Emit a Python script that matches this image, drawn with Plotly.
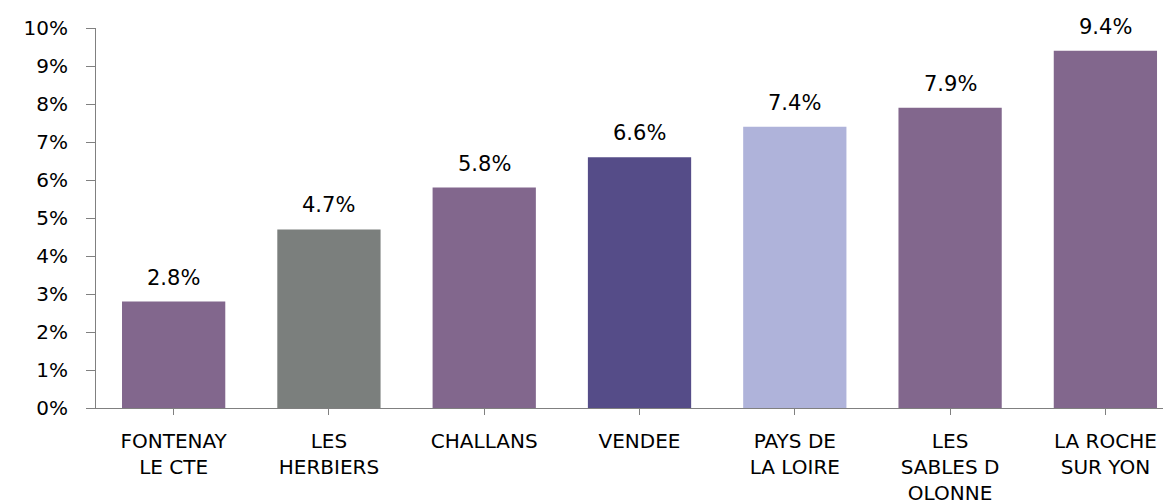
import plotly.graph_objects as go

categories = ["FONTENAY<br>LE CTE", "LES<br>HERBIERS", "CHALLANS", "VENDEE",
              "PAYS DE<br>LA LOIRE", "LES<br>SABLES D<br>OLONNE", "LA ROCHE<br>SUR YON"]
values = [0.028, 0.047, 0.058, 0.066, 0.074, 0.079, 0.094]
labels = ["2.8%", "4.7%", "5.8%", "6.6%", "7.4%", "7.9%", "9.4%"]
colors = ["#82678D", "#7B7F7D", "#82678D", "#554C88", "#AFB3DA", "#82678D", "#82678D"]
y_ticks = [i / 100 for i in range(0, 11)]
y_tick_text = [f"{i}%" for i in range(0, 11)]

FONT = "DejaVu Sans"

fig = go.Figure()
fig.add_trace(go.Bar(
    x=list(range(len(categories))),
    y=values,
    marker=dict(color=colors, line=dict(width=0)),
    width=0.665,
    hoverinfo="skip",
))

for i, (v, t) in enumerate(zip(values, labels)):
    fig.add_annotation(x=i, y=v, text=t, showarrow=False, yanchor="bottom",
                       yshift=10, font=dict(family=FONT, size=21, color="#000000"))

# the page adds an 8px body margin, so margins are compensated
fig.update_layout(
    width=1171, height=504,
    margin=dict(l=88, r=0, t=20, b=104),
    paper_bgcolor="white", plot_bgcolor="white",
    showlegend=False,
    font=dict(family=FONT, size=20, color="#000000"),
)
fig.update_xaxes(
    range=[-0.5, 6.474], automargin=False,
    tickmode="array", tickvals=list(range(len(categories))), ticktext=categories,
    showgrid=False, zeroline=False,
    showline=True, linecolor="#808080", linewidth=1,
    ticks="outside", ticklen=6, tickcolor="#808080", tickson="boundaries",
    tickfont=dict(family=FONT, size=20, color="#000000"),
    ticklabelstandoff=9,
)
fig.update_yaxes(
    range=[0, 0.10], automargin=False,
    tickmode="array", tickvals=y_ticks, ticktext=y_tick_text,
    showgrid=False, zeroline=False,
    showline=True, linecolor="#808080", linewidth=1,
    ticks="outside", ticklen=9, tickcolor="#808080",
    tickfont=dict(family=FONT, size=20, color="#000000"),
    ticklabelstandoff=14,
)

fig.write_html("out.html")
